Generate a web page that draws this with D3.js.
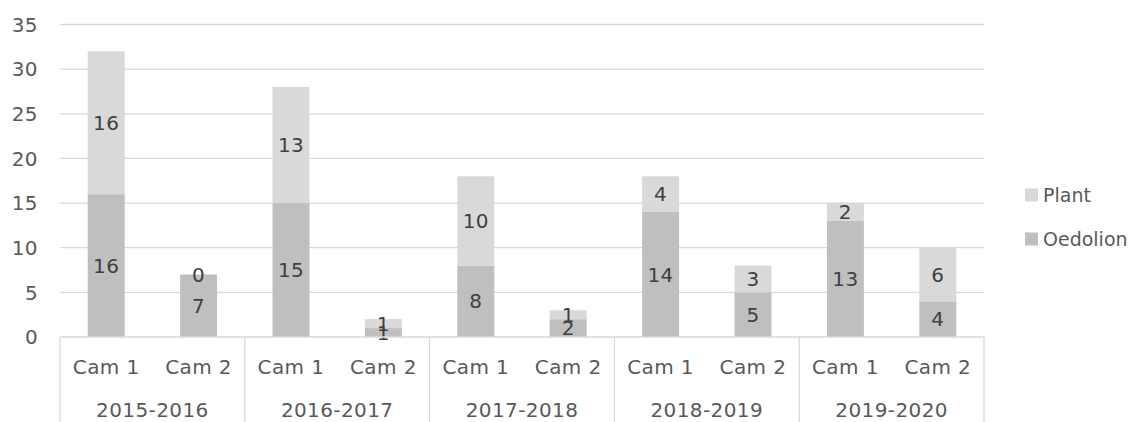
<!DOCTYPE html>
<html>
<head>
<meta charset="utf-8">
<script src="https://cdn.jsdelivr.net/npm/d3@7"></script>
<style>
  body { margin: 0; background: #fff; }
  text { font-family: "DejaVu Sans", sans-serif; letter-spacing: 0.4px; }
  .legend text { letter-spacing: 0; }
</style>
</head>
<body>
<svg id="chart"></svg>
<script>
// data
const years = ["2015-2016", "2016-2017", "2017-2018", "2018-2019", "2019-2020"];
const cams = ["Cam 1", "Cam 2"];
const oedolion = [16, 7, 15, 1, 8, 2, 14, 5, 13, 4];
const plant = [16, 0, 13, 1, 10, 1, 4, 3, 2, 6];
const yTicks = [0, 5, 10, 15, 20, 25, 30, 35];

const width = 1133;
const height = 422;
const plotL = 60, plotR = 984, plotT = 24.5, plotB = 337;
const fs = 20;

const svg = d3.select("#chart").attr("width", width).attr("height", height);

const cats = [];
years.forEach(yr => cams.forEach(c => cats.push(yr + "|" + c)));

const x = d3.scaleBand().domain(cats).range([plotL, plotR])
  .paddingInner(0.6).paddingOuter(0.3);
const y = d3.scaleLinear().domain([0, 35]).range([plotB, plotT]);

// gridlines
svg.append("g").selectAll("line").data(yTicks.filter(d => d > 0)).join("line")
  .attr("x1", plotL).attr("x2", plotR)
  .attr("y1", d => y(d)).attr("y2", d => y(d))
  .attr("stroke", "#d9d9d9").attr("stroke-width", 1.3);

// y labels
svg.append("g").selectAll("text").data(yTicks).join("text")
  .attr("x", 38).attr("y", d => y(d)).attr("dy", "0.36em")
  .attr("text-anchor", "end").attr("font-size", fs).attr("fill", "#595959")
  .text(d => d);

const rows = cats.map((c, i) => ({ cat: c, oed: oedolion[i], pl: plant[i] }));

const colOed = "#bfbfbf", colPl = "#d9d9d9";

const bars = svg.append("g").selectAll("g").data(rows).join("g");
bars.append("rect")
  .attr("x", d => x(d.cat)).attr("width", x.bandwidth())
  .attr("y", d => y(d.oed)).attr("height", d => y(0) - y(d.oed))
  .attr("fill", colOed);
bars.append("rect")
  .attr("x", d => x(d.cat)).attr("width", x.bandwidth())
  .attr("y", d => y(d.oed + d.pl)).attr("height", d => y(d.oed) - y(d.oed + d.pl))
  .attr("fill", colPl);

// data labels, centred in each segment (as in the original, small ones overlap)
bars.append("text")
  .attr("x", d => x(d.cat) + x.bandwidth() / 2)
  .attr("y", d => y(d.oed / 2)).attr("dy", "0.36em")
  .attr("text-anchor", "middle").attr("font-size", fs).attr("fill", "#404040")
  .text(d => d.oed);
bars.append("text")
  .attr("x", d => x(d.cat) + x.bandwidth() / 2)
  .attr("y", d => y(d.oed + d.pl / 2)).attr("dy", "0.36em")
  .attr("text-anchor", "middle").attr("font-size", fs).attr("fill", "#404040")
  .text(d => d.pl);

// category axis
svg.append("line").attr("x1", plotL).attr("x2", plotR)
  .attr("y1", plotB).attr("y2", plotB)
  .attr("stroke", "#d9d9d9").attr("stroke-width", 1.3);

const groupW = (plotR - plotL) / years.length;
const seps = d3.range(years.length + 1).map(i => plotL + i * groupW);
svg.append("g").selectAll("line").data(seps).join("line")
  .attr("x1", d => d).attr("x2", d => d)
  .attr("y1", plotB).attr("y2", height)
  .attr("stroke", "#d9d9d9").attr("stroke-width", 1.3);

svg.append("g").selectAll("text").data(cats).join("text")
  .attr("x", d => x(d) + x.bandwidth() / 2).attr("y", 367).attr("dy", "0.36em")
  .attr("text-anchor", "middle").attr("font-size", fs).attr("fill", "#595959")
  .text(d => d.split("|")[1]);

svg.append("g").selectAll("text").data(years).join("text")
  .attr("x", (d, i) => plotL + (i + 0.5) * groupW).attr("y", 410).attr("dy", "0.36em")
  .attr("text-anchor", "middle").attr("font-size", fs).attr("fill", "#595959")
  .text(d => d);

// legend
const legend = [{ name: "Plant", color: colPl }, { name: "Oedolion", color: colOed }];
const lg = svg.append("g").attr("class", "legend").selectAll("g").data(legend).join("g")
  .attr("transform", (d, i) => `translate(1025, ${195 + i * 44})`);
lg.append("rect").attr("x", 0).attr("y", -6.5).attr("width", 13).attr("height", 13)
  .attr("fill", d => d.color);
lg.append("text").attr("x", 18).attr("dy", "0.36em")
  .attr("font-size", 19).attr("fill", "#595959").text(d => d.name);
</script>
</body>
</html>
